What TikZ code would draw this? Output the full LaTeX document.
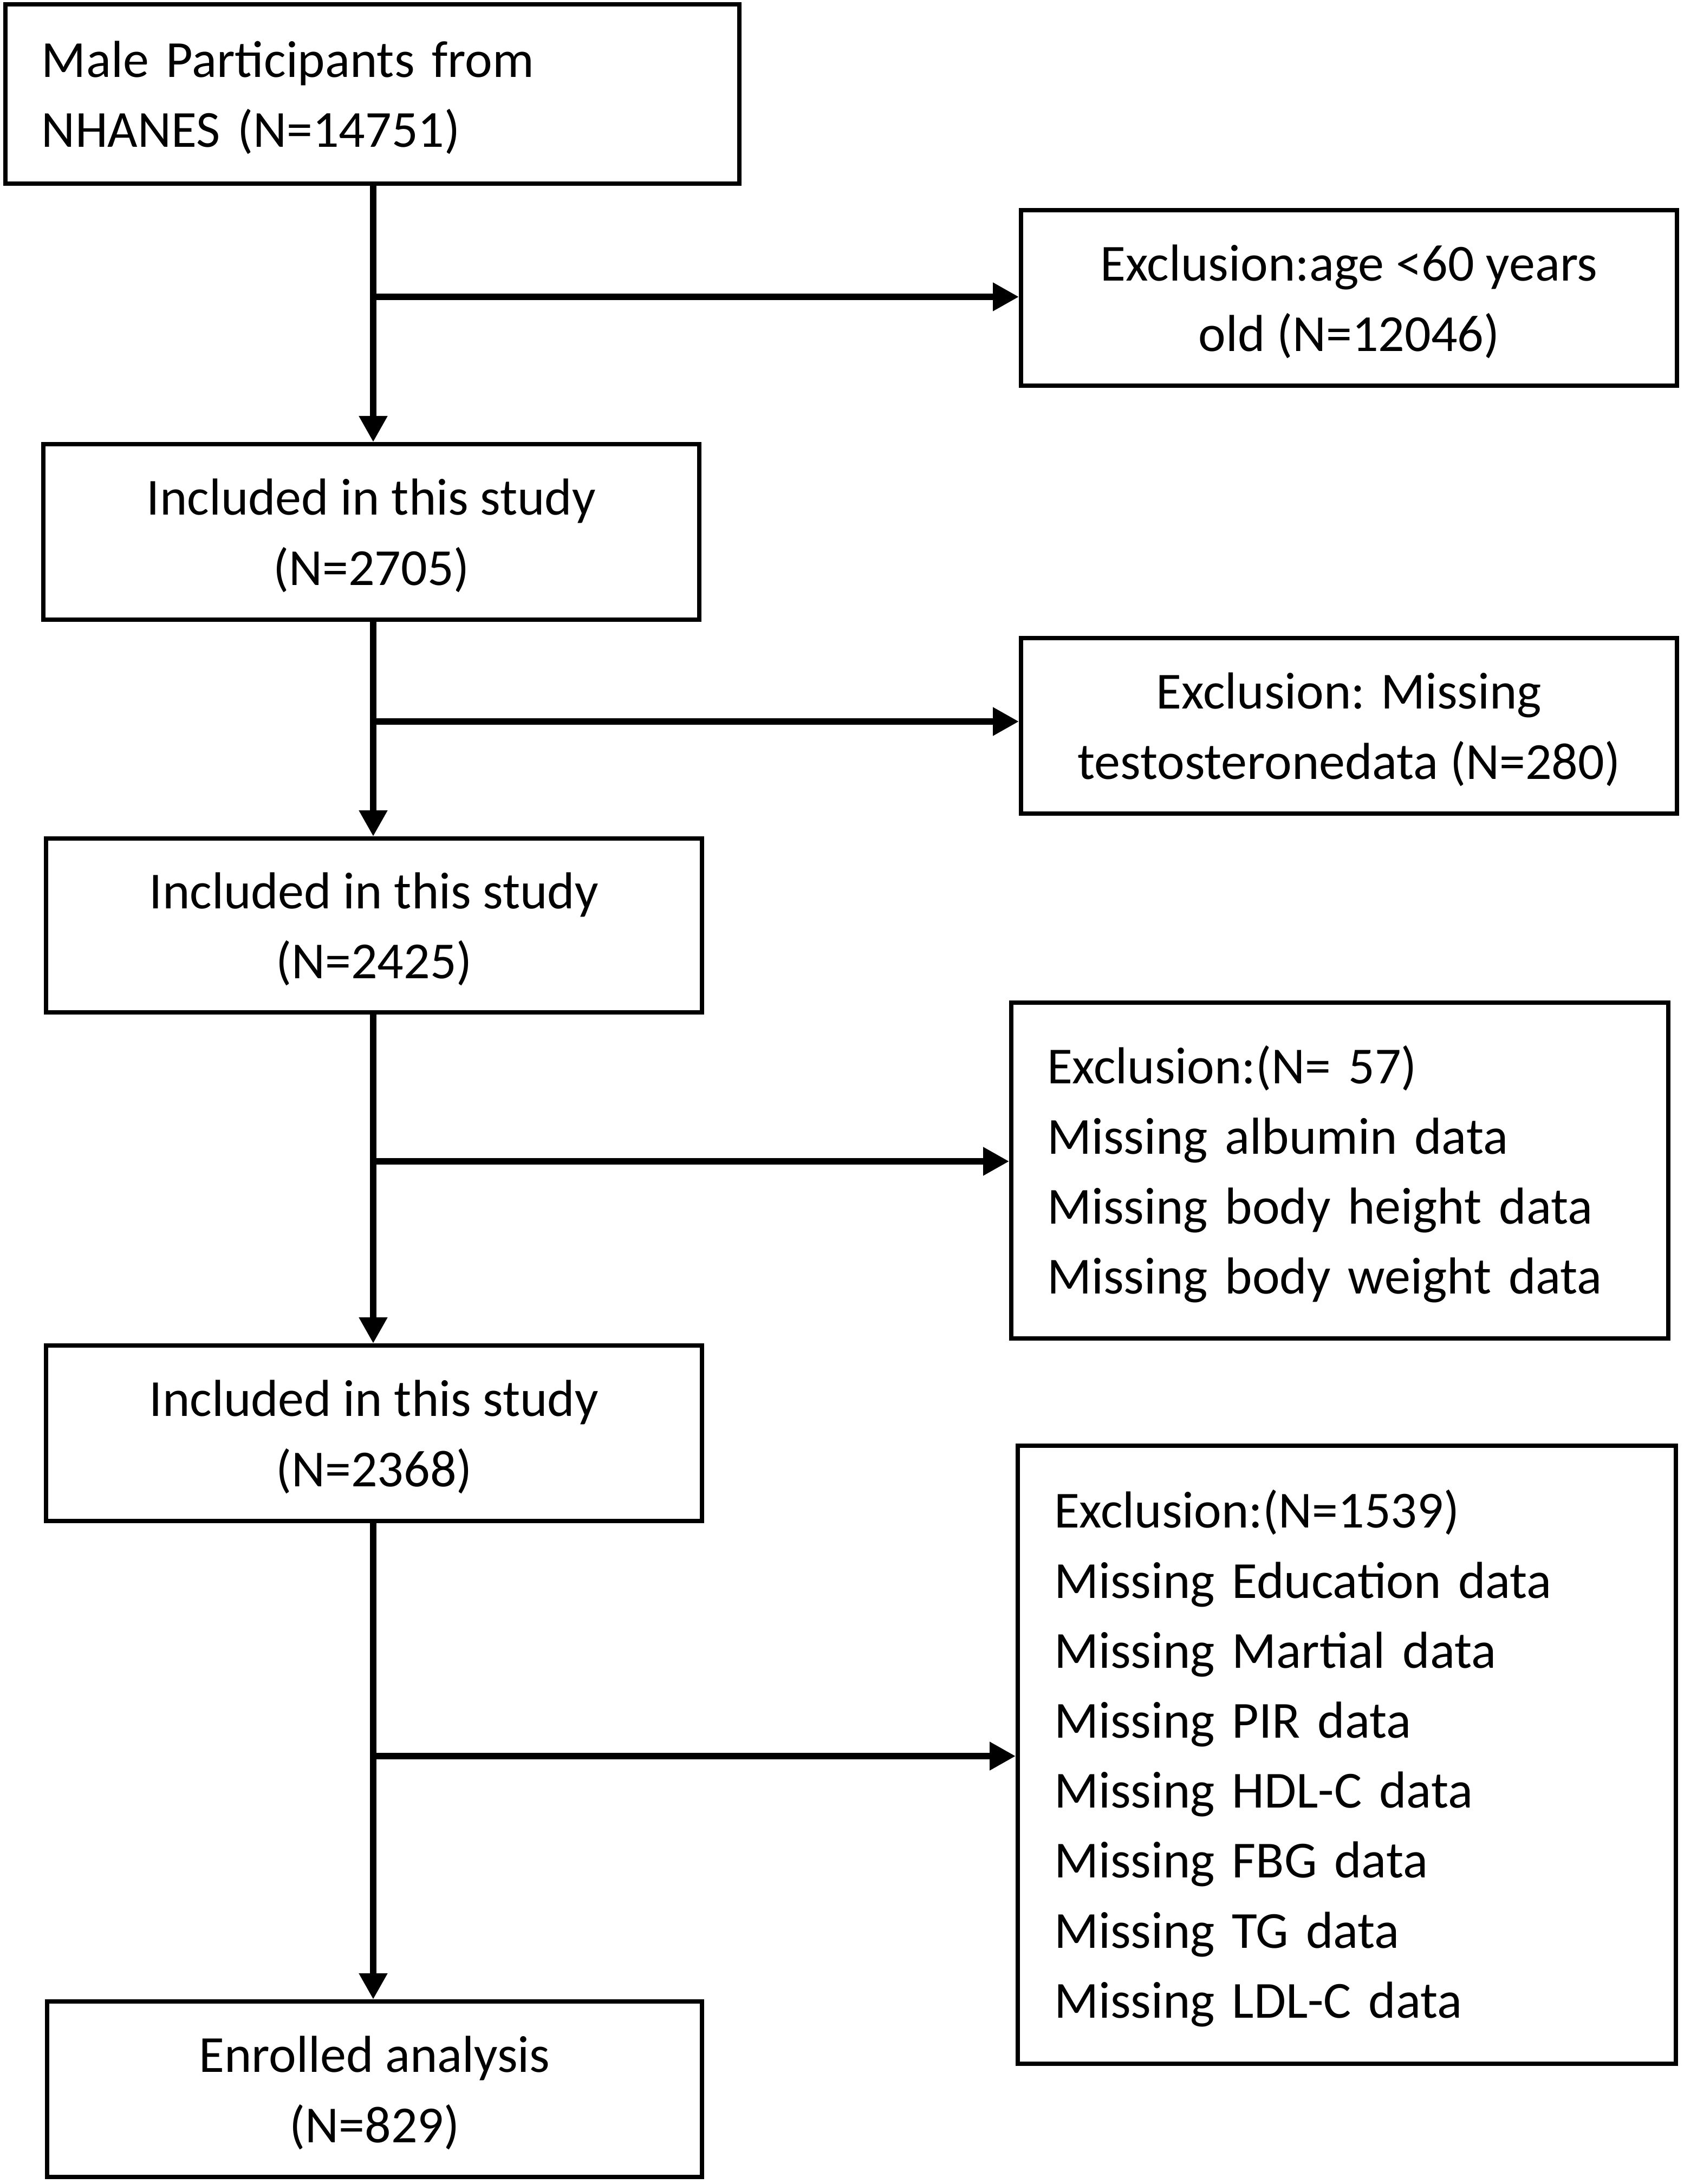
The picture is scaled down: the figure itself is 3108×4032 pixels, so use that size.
\documentclass[tikz,border=0pt]{standalone}
\usepackage{fontspec}
\setmainfont{Carlito}
\usetikzlibrary{arrows.meta}
\begin{document}
\begin{tikzpicture}[x=0.25pt,y=-0.25pt,
  box/.style={draw, line width=2pt, inner sep=0pt},
  txt/.style={inner sep=0pt, yshift=-1.7pt, font=\fontsize{24}{32.3}\selectfont},
  ctxt/.style={txt, align=center},
  ltxt/.style={txt, align=left, text width=#1},
  arr/.style={line width=2.8pt, -{Triangle[width=12.5pt,length=12pt]}}]
\useasboundingbox[fill=white] (0,0) rectangle (3108,4032);
\node[box, minimum width=338.75pt, minimum height=82.75pt, label={[ltxt=305.25pt]center:{Male Participants from\\NHANES (N=14751)}}] (m) at (687.5,173.5) {};
\node[box, minimum width=302.75pt, minimum height=81pt, label={[ctxt]center:{Exclusion:age <60 years\\old (N=12046)}}] (e1) at (2490.5,550) {};
\node[box, minimum width=302.75pt, minimum height=81pt, label={[ctxt]center:{Included in this study\\(N=2705)}}] (i1) at (685.5,982) {};
\node[box, minimum width=302.75pt, minimum height=81pt, label={[ctxt]center:{Exclusion: Missing\\testosteronedata (N=280)}}] (e2) at (2490.5,1340) {};
\node[box, minimum width=302.75pt, minimum height=80.25pt, label={[ctxt]center:{Included in this study\\(N=2425)}}] (i2) at (690.5,1708.5) {};
\node[box, minimum width=303.25pt, minimum height=155pt, label={[ltxt=270.25pt]center:{Exclusion:(N= 57)\\Missing albumin data\\Missing body height data\\Missing body weight data}}] (e3) at (2473.5,2161) {};
\node[box, minimum width=302.75pt, minimum height=81pt, label={[ctxt]center:{Included in this study\\(N=2368)}}] (i3) at (690.5,2646) {};
\node[box, minimum width=303.75pt, minimum height=285.25pt, label={[ltxt=270.25pt]center:{Exclusion:(N=1539)\\Missing Education data\\Missing Martial data\\Missing PIR data\\Missing HDL-C data\\Missing FBG data\\Missing TG data\\Missing LDL-C data}}] (e4) at (2486.5,3239.5) {};
\node[box, minimum width=302.25pt, minimum height=81pt, label={[ctxt]center:{Enrolled analysis\\(N=829)}}] (en) at (691.5,3857) {};
\coordinate (t) at (689,0);
\coordinate (c1) at (689,548);
\coordinate (c2) at (689,1332);
\coordinate (c3) at (689,2144);
\coordinate (c4) at (689,3242);
\draw[arr] (m.south -| t) -- (i1.north -| t);
\draw[arr] (i1.south -| t) -- (i2.north -| t);
\draw[arr] (i2.south -| t) -- (i3.north -| t);
\draw[arr] (i3.south -| t) -- (en.north -| t);
\draw[arr] (c1) -- (c1 -| e1.west);
\draw[arr] (c2) -- (c2 -| e2.west);
\draw[arr] (c3) -- (c3 -| e3.west);
\draw[arr] (c4) -- (c4 -| e4.west);
\end{tikzpicture}
\end{document}
